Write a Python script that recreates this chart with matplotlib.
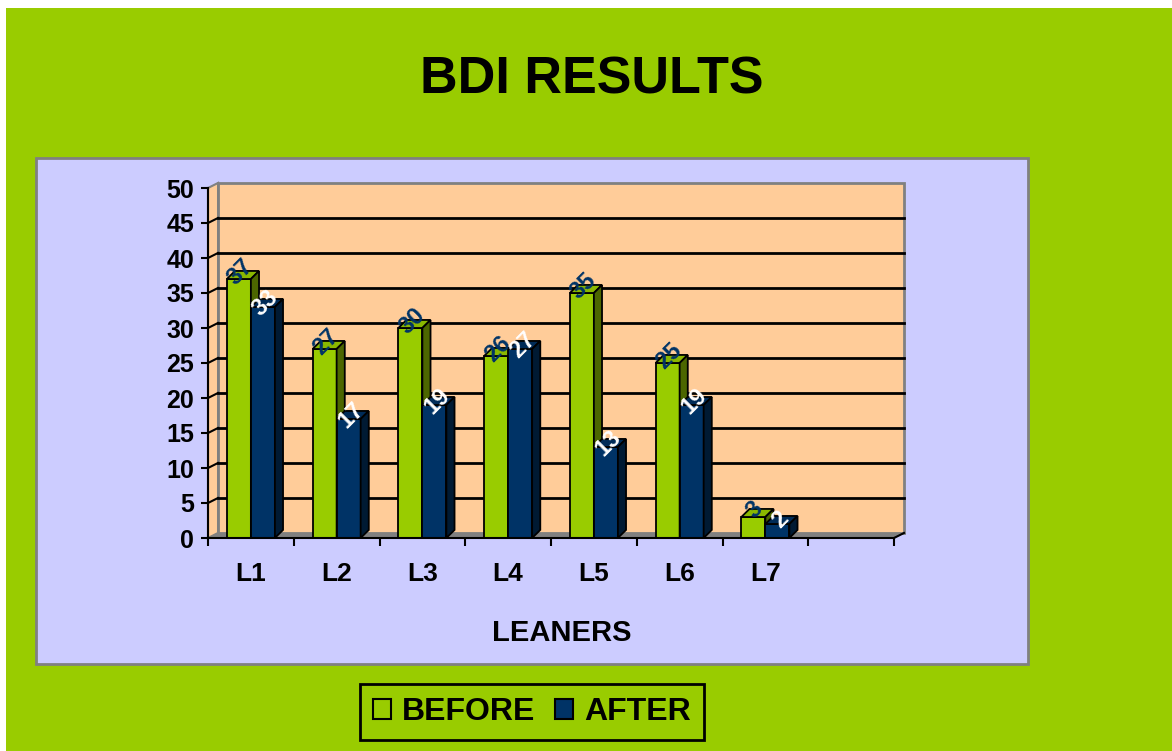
import matplotlib
matplotlib.use("Agg")
import matplotlib.pyplot as plt
from matplotlib.patches import Rectangle, Polygon, Patch

# données du graphique
learners = ["L1", "L2", "L3", "L4", "L5", "L6", "L7", ""]
before = [37, 27, 30, 26, 35, 25, 3]
after = [33, 17, 19, 27, 13, 19, 2]
series_names = ["BEFORE", "AFTER"]
y_ticks = list(range(0, 55, 5))

# couleurs
BG_GREEN = "#99CC00"
LAVENDER = "#CCCCFF"
PEACH = "#FFCC99"
NAVY = "#003366"
GREEN_TOP = "#8AB800"
GREEN_SIDE = "#4C6600"
NAVY_TOP = "#002B57"
NAVY_SIDE = "#001A33"
GRAY = "#808080"

plt.rcParams["font.family"] = ["Liberation Sans", "DejaVu Sans"]
plt.rcParams["font.weight"] = "bold"

W, H = 1172, 751
fig = plt.figure(figsize=(W / 100, H / 100), dpi=100, facecolor="white")


def fig_rect(x0, y0, x1, y1, **kw):
    """ rectangle en pixels (origine en haut à gauche) """
    fig.patches.append(Rectangle((x0 / W, 1 - y1 / H), (x1 - x0) / W, (y1 - y0) / H,
                                 transform=fig.transFigure, **kw))


# fond vert + zone de traçage lavande
fig_rect(6, 8, W, H + 2, facecolor=BG_GREEN, edgecolor="none", zorder=-2)
fig_rect(36, 158, 1028, 664, facecolor=LAVENDER, edgecolor=GRAY, linewidth=2, zorder=-1)

# axes (face avant du graphique 3D)
ax = fig.add_axes([208 / W, 1 - 538 / H, (894 - 208) / W, 350 / H])
ax.set_zorder(2)
ax.set_facecolor("none")
ax.set_xlim(-0.5, len(learners) - 0.5)
ax.set_ylim(0, 50)
x_left, x_right = -0.5, len(learners) - 0.5

# profondeur des murs et des barres (en unités de données)
wdx, wdy = 0.117, 0.72
bdx, bdy = 0.095, 1.15
bw = 0.28

# mur du fond, mur latéral, sol
ax.add_patch(Polygon([(x_left + wdx, wdy), (x_right + wdx, wdy), (x_right + wdx, 50 + wdy),
                      (x_left + wdx, 50 + wdy)], closed=True, facecolor=PEACH,
                     edgecolor=GRAY, linewidth=2, clip_on=False, zorder=1))
ax.add_patch(Polygon([(x_left, 0), (x_left + wdx, wdy), (x_left + wdx, 50 + wdy), (x_left, 50)],
                     closed=True, facecolor=PEACH, edgecolor=GRAY, linewidth=1.5,
                     clip_on=False, zorder=1))
ax.add_patch(Polygon([(x_left, 0), (x_left + wdx, wdy), (x_right + wdx, wdy), (x_right, 0)],
                     closed=True, facecolor=GRAY, edgecolor="none", clip_on=False, zorder=1))
ax.plot([x_right, x_right + wdx], [0, wdy], color="black", lw=1.5, clip_on=False, zorder=2)

# lignes de quadrillage
for v in y_ticks[1:-1]:
    ax.plot([x_left + wdx, x_right + wdx], [v + wdy, v + wdy], color="black", lw=2,
            clip_on=False, zorder=2)
    ax.plot([x_left, x_left + wdx], [v, v + wdy], color="black", lw=1.5, clip_on=False, zorder=2)


def draw_bar(x0, h, front, top, side):
    ax.add_patch(Rectangle((x0, 0), bw, h, facecolor=front, edgecolor="black", lw=1.3, zorder=3))
    ax.add_patch(Polygon([(x0, h), (x0 + bw, h), (x0 + bw + bdx, h + bdy), (x0 + bdx, h + bdy)],
                         closed=True, facecolor=top, edgecolor="black", lw=1.3, zorder=3,
                         clip_on=False))
    ax.add_patch(Polygon([(x0 + bw, 0), (x0 + bw + bdx, bdy), (x0 + bw + bdx, h + bdy), (x0 + bw, h)],
                         closed=True, facecolor=side, edgecolor="black", lw=1.3, zorder=3,
                         clip_on=False))


for i, (b, a) in enumerate(zip(before, after)):
    draw_bar(i - bw, b, BG_GREEN, GREEN_TOP, GREEN_SIDE)
    draw_bar(i, a, NAVY, NAVY_TOP, NAVY_SIDE)

for i, (b, a) in enumerate(zip(before, after)):
    ax.annotate(str(b), (i - bw / 2, b), xytext=(1, 5), textcoords="offset points",
                ha="center", va="center", rotation=45, fontsize=17, fontweight="bold",
                color=NAVY, zorder=5, annotation_clip=False)
    ax.annotate(str(a), (i + bw / 2, a), xytext=(2, 3), textcoords="offset points",
                ha="center", va="center", rotation=45, fontsize=17, fontweight="bold",
                color="white", zorder=5, annotation_clip=False)

# axes et graduations
for s in ["top", "right"]:
    ax.spines[s].set_visible(False)
for s in ["left", "bottom"]:
    ax.spines[s].set_linewidth(1.5)
    ax.spines[s].set_zorder(4)
ax.set_yticks(y_ticks)
ax.set_yticklabels([str(v) for v in y_ticks], fontsize=18, fontweight="bold")
ax.tick_params(axis="y", direction="out", length=5, width=1.5, pad=5)
ax.set_xticks([k - 0.5 for k in range(len(learners) + 1)])
ax.set_xticklabels([])
ax.set_xticks(range(len(learners)), minor=True)
ax.set_xticklabels(learners, minor=True, fontsize=19, fontweight="bold")
ax.tick_params(axis="x", which="major", direction="out", length=6, width=1.5)
ax.tick_params(axis="x", which="minor", length=0, pad=17)

# titres
fig.text(592 / W, 1 - 80 / H, "BDI RESULTS", ha="center", va="center", fontsize=37.5,
         fontweight="bold")
fig.text(561.5 / W, 1 - 633 / H, "LEANERS", ha="center", va="center", fontsize=21,
         fontweight="bold")

# légende
handles = [Patch(facecolor=BG_GREEN, edgecolor="black", lw=1.5),
           Patch(facecolor=NAVY, edgecolor="black", lw=1.5)]
leg = fig.legend(handles, series_names, loc="center", bbox_to_anchor=(532 / W, 1 - 712 / H),
                 ncol=2, frameon=True, fancybox=False, facecolor=BG_GREEN, edgecolor="black",
                 framealpha=1, handlelength=0.58, handleheight=0.58, handletextpad=0.35,
                 columnspacing=0.6, borderpad=0.4, prop={"size": 23, "weight": "bold"})
leg.get_frame().set_linewidth(2)

fig.savefig("out.png", dpi=100, facecolor=fig.get_facecolor())
